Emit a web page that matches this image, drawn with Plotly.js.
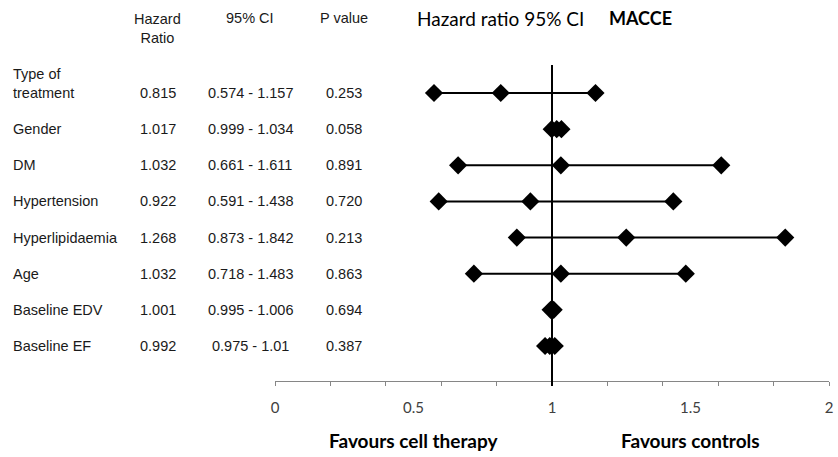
<!DOCTYPE html>
<html>
<head>
<meta charset="utf-8">
<script src="https://cdn.plot.ly/plotly-3.0.1.min.js"></script>
<style>html,body{margin:0;padding:0;background:#fff;}#chart{width:838px;height:457px;}</style>
</head>
<body>
<div id="chart"></div>
<script>
// ---- data ----
var labels = ["Type of<br>treatment", "Gender", "DM", "Hypertension", "Hyperlipidaemia", "Age", "Baseline EDV", "Baseline EF"];
var hazardRatio = [0.815, 1.017, 1.032, 0.922, 1.268, 1.032, 1.001, 0.992];
var ciLower = [0.574, 0.999, 0.661, 0.591, 0.873, 0.718, 0.995, 0.975];
var ciUpper = [1.157, 1.034, 1.611, 1.438, 1.842, 1.483, 1.006, 1.01];
var hrText = ["0.815", "1.017", "1.032", "0.922", "1.268", "1.032", "1.001", "0.992"];
var ciText = ["0.574 - 1.157", "0.999 - 1.034", "0.661 - 1.611", "0.591 - 1.438", "0.873 - 1.842", "0.718 - 1.483", "0.995 - 1.006", "0.975 - 1.01"];
var pText = ["0.253", "0.058", "0.891", "0.720", "0.213", "0.863", "0.694", "0.387"];
var headers = ["Hazard<br>Ratio", "95% CI", "P value"];
var minorTicks = [0, 0.2, 0.4, 0.6, 0.8, 1, 1.2, 1.4, 1.6, 1.8, 2];
var majorTicks = [0, 0.5, 1, 1.5, 2];
var majorTickText = ["0", "0.5", "1", "1.5", "2"];
var chartTitle = "Hazard ratio 95% CI";
var outcome = "MACCE";
var favoursLeft = "Favours cell therapy";
var favoursRight = "Favours controls";
var refValue = 1;

// ---- traces ----
var traces = labels.map(function (lab, i) {
  return {
    type: "scatter",
    mode: "lines+markers",
    x: [ciLower[i], hazardRatio[i], ciUpper[i]],
    y: [i + 1, i + 1, i + 1],
    line: {color: "#000", width: 2},
    marker: {symbol: "diamond", size: 14, color: "#000"},
    cliponaxis: false,
    hoverinfo: "skip",
    name: lab.replace("<br>", " ")
  };
});
// invisible carrier trace so the labelled axis (x2) is drawn
traces.push({
  type: "scatter", mode: "markers", xaxis: "x2", yaxis: "y",
  x: majorTicks, y: majorTicks.map(function () { return 1; }),
  marker: {size: 1, color: "rgba(0,0,0,0)"}, hoverinfo: "skip", showlegend: false
});

var tableFont = {family: "Liberation Sans, Arial, sans-serif", size: 14.5, color: "#1a1a1a"};
var colLabel = -0.4765, colHR = -0.2112, colCI = -0.0451, colP = 0.1245;

var ann = [];
labels.forEach(function (lab, i) {
  var multi = lab.indexOf("<br>") >= 0;
  ann.push({xref: "paper", yref: "y", x: colLabel, y: i + 1, text: lab, showarrow: false,
    xanchor: "left", yanchor: "middle", align: "left", yshift: multi ? 10 : 0, font: tableFont});
  ann.push({xref: "paper", yref: "y", x: colHR, y: i + 1, text: hrText[i], showarrow: false,
    xanchor: "center", yanchor: "middle", font: tableFont});
  ann.push({xref: "paper", yref: "y", x: colCI, y: i + 1, text: ciText[i], showarrow: false,
    xanchor: "center", yanchor: "middle", font: tableFont});
  ann.push({xref: "paper", yref: "y", x: colP, y: i + 1, text: pText[i], showarrow: false,
    xanchor: "center", yanchor: "middle", font: tableFont});
});
ann.push({xref: "paper", yref: "paper", x: colHR, y: 1.115, text: headers[0], showarrow: false,
  xanchor: "center", yanchor: "middle", font: tableFont});
ann.push({xref: "paper", yref: "paper", x: colCI, y: 1.1475, text: headers[1], showarrow: false,
  xanchor: "center", yanchor: "middle", font: tableFont});
ann.push({xref: "paper", yref: "paper", x: colP, y: 1.1475, text: headers[2], showarrow: false,
  xanchor: "center", yanchor: "middle", font: tableFont});
ann.push({xref: "paper", yref: "paper", x: 0.2525, y: 1.1475, text: chartTitle, showarrow: false,
  xanchor: "left", yanchor: "middle", font: {family: "Lato, sans-serif", size: 19, color: "#000"}});
ann.push({xref: "paper", yref: "paper", x: 0.6, y: 1.1475, text: "<b>" + outcome + "</b>", showarrow: false,
  xanchor: "left", yanchor: "middle", font: {family: "Lato, sans-serif", size: 18, color: "#000"}});
ann.push({xref: "x", yref: "paper", x: 0.5, y: -0.187, text: "<b>" + favoursLeft + "</b>", showarrow: false,
  xanchor: "center", yanchor: "middle", font: {family: "Lato, sans-serif", size: 19, color: "#000"}});
ann.push({xref: "x", yref: "paper", x: 1.5, y: -0.187, text: "<b>" + favoursRight + "</b>", showarrow: false,
  xanchor: "center", yanchor: "middle", font: {family: "Lato, sans-serif", size: 19, color: "#000"}});

var layout = {
  width: 838, height: 457,
  margin: {l: 275, r: 9, t: 65, b: 76},
  paper_bgcolor: "#fff", plot_bgcolor: "#fff",
  showlegend: false,
  xaxis: {
    range: [0, 2], tickmode: "array", tickvals: minorTicks, showticklabels: false,
    ticks: "outside", ticklen: 4, tickwidth: 1, tickcolor: "#868686",
    showline: true, linecolor: "#868686", linewidth: 1,
    showgrid: false, zeroline: false, fixedrange: true
  },
  xaxis2: {
    overlaying: "x", anchor: "y", side: "bottom", range: [0, 2],
    tickmode: "array", tickvals: majorTicks, ticktext: majorTickText,
    ticks: "", showline: false, showgrid: false, zeroline: false,
    ticklabelstandoff: 16,
    tickfont: {family: "Lato, sans-serif", size: 15, color: "#404040"}, fixedrange: true
  },
  yaxis: {
    range: [8.969, 0.225], showticklabels: false, ticks: "", showgrid: false,
    zeroline: false, showline: false, fixedrange: true
  },
  shapes: [{
    type: "line", xref: "x", yref: "paper", x0: refValue, x1: refValue, y0: -0.016, y1: 1,
    line: {color: "#000", width: 2}, layer: "above"
  }],
  annotations: ann
};

Plotly.newPlot("chart", traces, layout, {staticPlot: true, displayModeBar: false});
</script>
</body>
</html>
